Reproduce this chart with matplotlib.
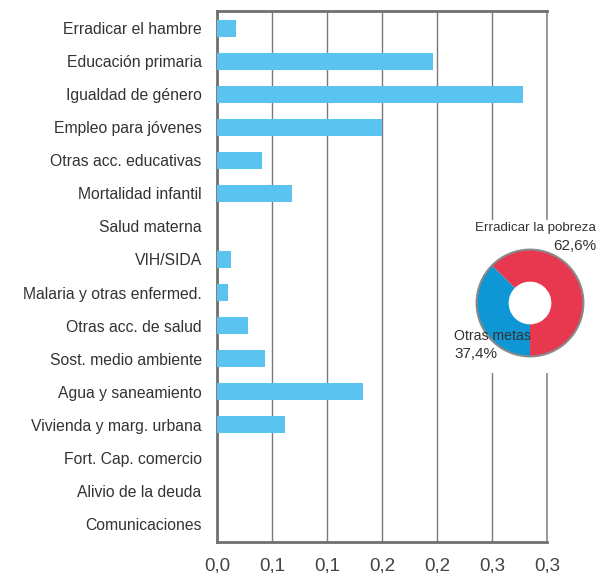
import matplotlib
matplotlib.use("Agg")
import matplotlib.pyplot as plt
from matplotlib.patches import Rectangle, Circle

plt.rcParams['font.family'] = ['Liberation Sans', 'DejaVu Sans']

# Bar data: share of spending per target
categories = [
    "Erradicar el hambre", "Educación primaria", "Igualdad de género",
    "Empleo para jóvenes", "Otras acc. educativas", "Mortalidad infantil",
    "Salud materna", "VIH/SIDA", "Malaria y otras enfermed.",
    "Otras acc. de salud", "Sost. medio ambiente", "Agua y saneamiento",
    "Vivienda y marg. urbana", "Fort. Cap. comercio", "Alivio de la deuda",
    "Comunicaciones",
]
values = [0.017, 0.196, 0.278, 0.150, 0.041, 0.068, 0.0, 0.013, 0.010,
          0.028, 0.044, 0.133, 0.062, 0.0, 0.0, 0.0]

x_ticks = [0.0, 0.05, 0.10, 0.15, 0.20, 0.25, 0.30]
x_tick_labels = ["0,0", "0,1", "0,1", "0,2", "0,2", "0,3", "0,3"]

# Donut data
donut_labels = ["Erradicar la pobreza", "Otras metas"]
donut_values = [62.6, 37.4]
donut_pct_labels = ["62,6%", "37,4%"]

W, H = 598, 573
fig = plt.figure(figsize=(W / 100, H / 100), dpi=100)
fig.patch.set_facecolor("white")

ax = fig.add_axes([217 / W, 1 - 542 / H, (547 - 217) / W, (542 - 11) / H])
ypos = list(range(len(categories)))
ax.barh(ypos, values, height=0.52, color="#5BC3EF", zorder=3)
ax.set_yticks(ypos)
ax.set_yticklabels(categories, fontsize=11.3, color="#333333")
ax.set_ylim(len(categories) - 0.45, -0.52)
ax.set_xlim(0, 0.30)
ax.set_xticks(x_ticks)
ax.set_xticklabels(x_tick_labels, fontsize=13.5, color="#444444")
ax.tick_params(axis="y", length=0, pad=11)
ax.tick_params(axis="x", length=0, pad=11)
ax.grid(axis="x", color="#7a7a7a", linewidth=1.0, zorder=0)
for side in ["left", "bottom", "top"]:
    ax.spines[side].set_color("#707070")
    ax.spines[side].set_linewidth(2.0)
ax.spines["right"].set_color("#8a8a8a")
ax.spines["right"].set_linewidth(1.2)

# White panel behind the donut
fig.patches.append(Rectangle((452 / W, 1 - 373 / H), (W - 452) / W, (373 - 220) / H,
                             transform=fig.transFigure, facecolor="white",
                             edgecolor="none", zorder=1))

cx, cy, r = 530, 303, 55
pax = fig.add_axes([(cx - r) / W, 1 - (cy + r) / H, 2 * r / W, 2 * r / H], zorder=2)
pax.pie(donut_values, colors=["#E8384F", "#0E97D4"], startangle=270,
        counterclock=True, radius=1.0,
        wedgeprops=dict(width=0.6, edgecolor="none"))
pax.add_patch(Circle((0, 0), 1.0, fill=False, edgecolor="#8a8a8a", linewidth=1.5))
pax.set_xlim(-1.03, 1.03)
pax.set_ylim(-1.03, 1.03)
pax.set_aspect("equal")
pax.axis("off")

fig.text(596 / W, 1 - 228 / H, donut_labels[0], ha="right", va="center",
         fontsize=9.6, color="#333333", zorder=5)
fig.text(596 / W, 1 - 246 / H, donut_pct_labels[0], ha="right", va="center",
         fontsize=11, color="#333333", zorder=5)
fig.text(454 / W, 1 - 336 / H, donut_labels[1], ha="left", va="center",
         fontsize=10.2, color="#333333", zorder=5)
fig.text(454 / W, 1 - 354 / H, donut_pct_labels[1], ha="left", va="center",
         fontsize=11, color="#333333", zorder=5)

fig.savefig("out.png", dpi=100, facecolor="white")
